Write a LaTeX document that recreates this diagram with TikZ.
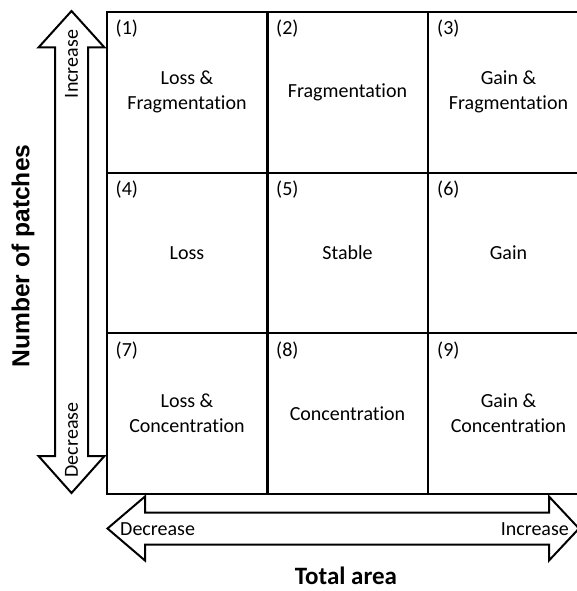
\documentclass[tikz,border=0pt]{standalone}
\usepackage{fontspec}
\setmainfont{Carlito}[Ligatures=NoCommon,RawFeature={-liga;-dlig}]
\newfontfamily\arialbold{Liberation Sans}
\begin{document}
\begin{tikzpicture}[x=1pt,y=-1pt,
  cell/.style={draw,line width=2pt,minimum width=161pt,minimum height=160.67pt,inner sep=0pt,outer sep=0pt},
  celltext/.style={font=\fontsize{20}{25}\selectfont,align=center,inner sep=0pt},
  numtext/.style={font=\fontsize{20}{24}\selectfont,anchor=west,inner sep=0pt},
  arrowshape/.style={draw,line width=2pt,line join=miter,fill=white},
  arrowlabel/.style={font=\fontsize{20}{24}\selectfont,inner sep=0pt},
  axislabel/.style={font=\bfseries\fontsize{25}{30}\selectfont,inner sep=0pt}]
\useasboundingbox (0,0) rectangle (577,591);
\clip (0,0) rectangle (577,591);
% cells
\foreach \r/\y in {0/92.33,1/253,2/413.67}{
  \foreach \c/\x in {0/187,1/347.5,2/508.5}{
    \pgfmathtruncatemacro{\n}{3*\r+\c+1}
    \node[cell] (c\n) at (\x,\y) {};
    \node[numtext] (n\n) at ([xshift=9pt,yshift=-17pt]c\n.north west) {(\n)};
  }
}
\node[celltext] (t1) at (c1) {Loss \&\\Fragmentation};
\node[celltext] (t2) at (c2) {Fragmentation};
\node[celltext] (t3) at (c3) {Gain \&\\Fragmentation};
\node[celltext] (t4) at (c4) {Loss};
\node[celltext] (t5) at (c5) {Stable};
\node[celltext] (t6) at (c6) {Gain};
\node[celltext] (t7) at (c7) {Loss \&\\Concentration};
\node[celltext] (t8) at (c8) {Concentration};
\node[celltext] (t9) at (c9) {Gain \&\\Concentration};
% vertical double arrow
\draw[arrowshape] (71.5,11) -- (104.5,47.5) -- (88,47.5) -- (88,456) -- (104.5,456) -- (71.5,493)
  -- (38.5,456) -- (55,456) -- (55,47.5) -- (38.5,47.5) -- cycle;
\node[arrowlabel,rotate=90] (vinc) at (71.5,64) {Increase};
\node[arrowlabel,rotate=90] (vdec) at (71.5,440) {Decrease};
% horizontal double arrow
\draw[arrowshape] (107.5,528.5) -- (145,496.5) -- (145,512.5) -- (549,512.5) -- (549,496.5) -- (579,528.5)
  -- (549,560.5) -- (549,544.5) -- (145,544.5) -- (145,560.5) -- cycle;
\node[arrowlabel,anchor=west] (hdec) at (120,529) {Decrease};
\node[arrowlabel,anchor=east] (hinc) at (569,529) {Increase};
% axis labels
\node[font=\arialbold\bfseries\fontsize{24.6}{30}\selectfont,inner sep=0pt,rotate=90] (ylab) at (23,256) {Number of patches};
\node[axislabel,anchor=base] (xlab) at (346,584) {Total area};
\end{tikzpicture}
\end{document}
